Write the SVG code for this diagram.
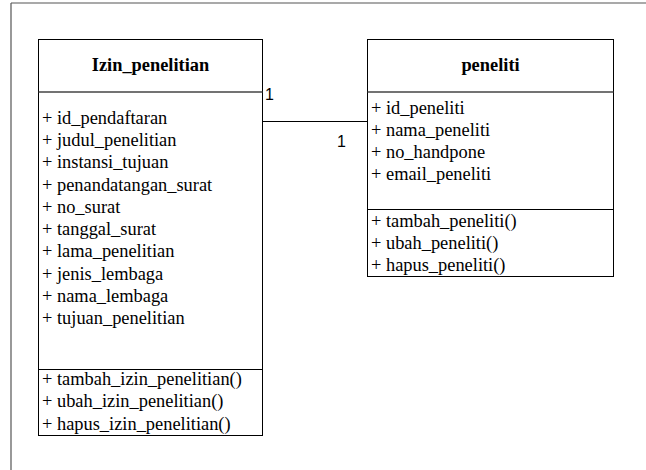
<svg xmlns="http://www.w3.org/2000/svg" width="646" height="470" viewBox="0 0 646 470">
<style>
.box{fill:#fff;stroke:#000;stroke-width:1}
.div{stroke:#444;stroke-width:1.5}
.div2{stroke:#000;stroke-width:1}
.frame{stroke:#555;stroke-width:1.2;fill:none}
</style>
<rect width="646" height="470" fill="#fff"/>
<path class="frame" d="M11 3 H646 M11 3 V470"/>
<g id="connectors">
<line x1="262" y1="121.5" x2="367" y2="121.5" stroke="#000" stroke-width="1"/>
<g font-family="Liberation Sans, Arial, sans-serif" font-size="16" fill="#000">
<text x="265" y="100">1</text>
<text x="337" y="147">1</text>
</g>
</g>
<g id="Izin_penelitian" font-family="Liberation Serif, Times New Roman, serif" font-size="18.4" fill="#000">
<rect class="box" x="38.5" y="39.5" width="224" height="396"/>
<line class="div" x1="38.5" y1="92" x2="262.5" y2="92"/>
<line class="div2" x1="38.5" y1="369.5" x2="262.5" y2="369.5"/>
<text x="150.5" y="71" font-weight="bold" text-anchor="middle">Izin_penelitian</text>
<text x="42" y="124">+ id_pendaftaran</text>
<text x="42" y="146">+ judul_penelitian</text>
<text x="42" y="168">+ instansi_tujuan</text>
<text x="42" y="191">+ penandatangan_surat</text>
<text x="42" y="213">+ no_surat</text>
<text x="42" y="235">+ tanggal_surat</text>
<text x="42" y="257">+ lama_penelitian</text>
<text x="42" y="280">+ jenis_lembaga</text>
<text x="42" y="302">+ nama_lembaga</text>
<text x="42" y="324">+ tujuan_penelitian</text>
<text x="42" y="385">+ tambah_izin_penelitian()</text>
<text x="42" y="407">+ ubah_izin_penelitian()</text>
<text x="42" y="430">+ hapus_izin_penelitian()</text>
</g>
<g id="peneliti" font-family="Liberation Serif, Times New Roman, serif" font-size="18.4" fill="#000">
<rect class="box" x="367.5" y="39.5" width="246" height="237"/>
<line class="div" x1="367.5" y1="92" x2="613.5" y2="92"/>
<line class="div2" x1="367.5" y1="209.5" x2="613.5" y2="209.5"/>
<text x="490.5" y="71" font-weight="bold" text-anchor="middle">peneliti</text>
<text x="371" y="114">+ id_peneliti</text>
<text x="371" y="136">+ nama_peneliti</text>
<text x="371" y="158">+ no_handpone</text>
<text x="371" y="180">+ email_peneliti</text>
<text x="371" y="227">+ tambah_peneliti()</text>
<text x="371" y="249">+ ubah_peneliti()</text>
<text x="371" y="271">+ hapus_peneliti()</text>
</g>
</svg>
